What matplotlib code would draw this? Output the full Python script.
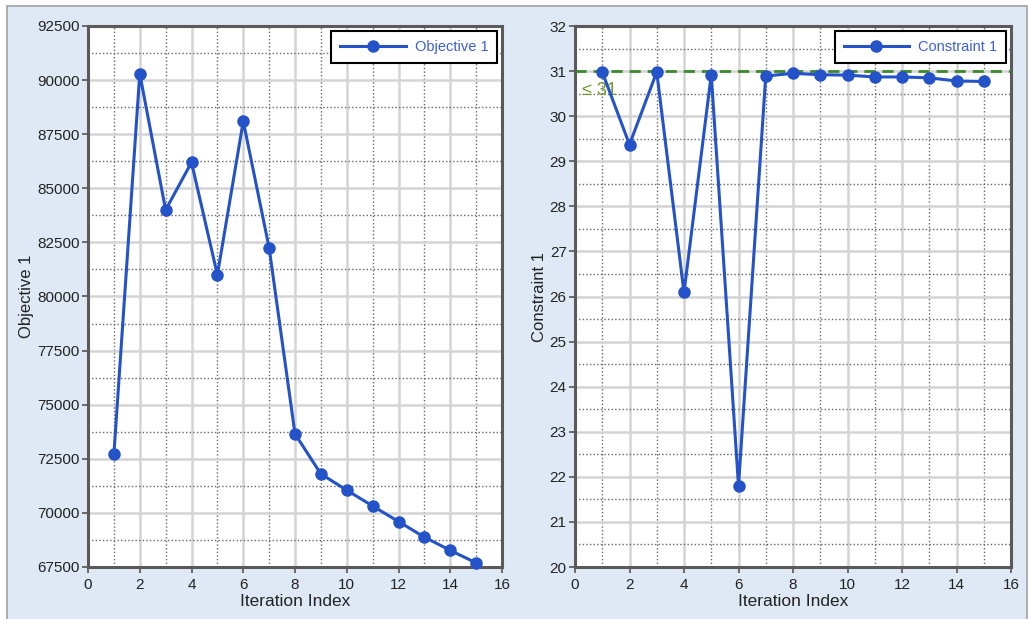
import numpy as np
import matplotlib.pyplot as plt
from matplotlib.patches import Rectangle
from matplotlib.ticker import MultipleLocator

plt.rcParams['font.family'] = ['Liberation Sans', 'DejaVu Sans']

# datos
iteraciones = [1, 2, 3, 4, 5, 6, 7, 8, 9, 10, 11, 12, 13, 14, 15]
objetivo = [72700, 90300, 84000, 86200, 81000, 88100, 82250, 73650,
            71800, 71050, 70320, 69600, 68880, 68270, 67690]
restriccion = [30.98, 29.37, 30.98, 26.09, 30.92, 21.80, 30.89, 30.95,
               30.92, 30.91, 30.87, 30.87, 30.85, 30.78, 30.77]
limite = 31

azul = '#2452c8'
fondo = '#dfe9f5'

fig = plt.figure(figsize=(10.29, 6.19), dpi=100)
fig.patch.set_facecolor('white')
fig.patches.append(Rectangle((7 / 1029, -0.01), 1020 / 1029, 1 - 6 / 619 + 0.01,
                             transform=fig.transFigure, facecolor=fondo,
                             edgecolor='#a0a0a0', linewidth=1.2, zorder=-5))

ax1 = fig.add_axes([88 / 1029, 52 / 619, 414 / 1029, 541 / 619])
ax2 = fig.add_axes([575 / 1029, 52 / 619, 436 / 1029, 541 / 619])


def estilo(ax, ymin, ymax, paso):
    ax.set_xlim(0, 16)
    ax.set_ylim(ymin, ymax)
    ax.xaxis.set_major_locator(MultipleLocator(2))
    ax.xaxis.set_minor_locator(MultipleLocator(1))
    ax.yaxis.set_major_locator(MultipleLocator(paso))
    ax.yaxis.set_minor_locator(MultipleLocator(paso / 2))
    ax.set_axisbelow(True)
    ax.grid(which='major', color='#d4d4d4', linewidth=1.8, linestyle='-')
    ax.grid(which='minor', color='#666666', linewidth=1.0, linestyle=(0, (1, 1.6)))
    ax.tick_params(which='minor', length=0)
    ax.tick_params(which='major', length=4, width=1.2, color='#555555',
                   labelsize=11, labelcolor='#222222', pad=2)
    ax.tick_params(axis='x', pad=4)
    for s in ax.spines.values():
        s.set_color('#5a5a5a')
        s.set_linewidth(2.2)
    ax.set_xlabel('Iteration Index', fontsize=12.5, color='#222222', labelpad=1)


ax1.plot(iteraciones, objetivo, color=azul, linewidth=2.2, marker='o',
         markersize=8, label='Objective 1', zorder=5, clip_on=False)
estilo(ax1, 67500, 92500, 2500)
ax1.set_ylabel('Objective 1', fontsize=12, color='#222222', labelpad=2)

ax2.plot(iteraciones, restriccion, color=azul, linewidth=2.2, marker='o',
         markersize=8, label='Constraint 1', zorder=5, clip_on=False)
ax2.axhline(limite, color='#3a8a2a', linewidth=2, linestyle=(0, (4, 2.5)), zorder=4)
ax2.text(0.25, limite - 0.42, '≤ 31', color='#6f9a30', fontsize=13,
         va='center', ha='left', zorder=4)
estilo(ax2, 20, 32, 1)
ax2.set_ylabel('Constraint 1', fontsize=12, color='#222222', labelpad=2)

for ax in (ax1, ax2):
    leg = ax.legend(loc='upper right', fancybox=False, framealpha=1,
                    edgecolor='black', fontsize=10.5, handlelength=4.5,
                    borderaxespad=0.35, borderpad=0.6, handletextpad=0.6)
    leg.get_frame().set_linewidth(1.5)
    for t in leg.get_texts():
        t.set_color('#3a5fd8')

fig.savefig('out.png', dpi=100, facecolor=fig.get_facecolor())
